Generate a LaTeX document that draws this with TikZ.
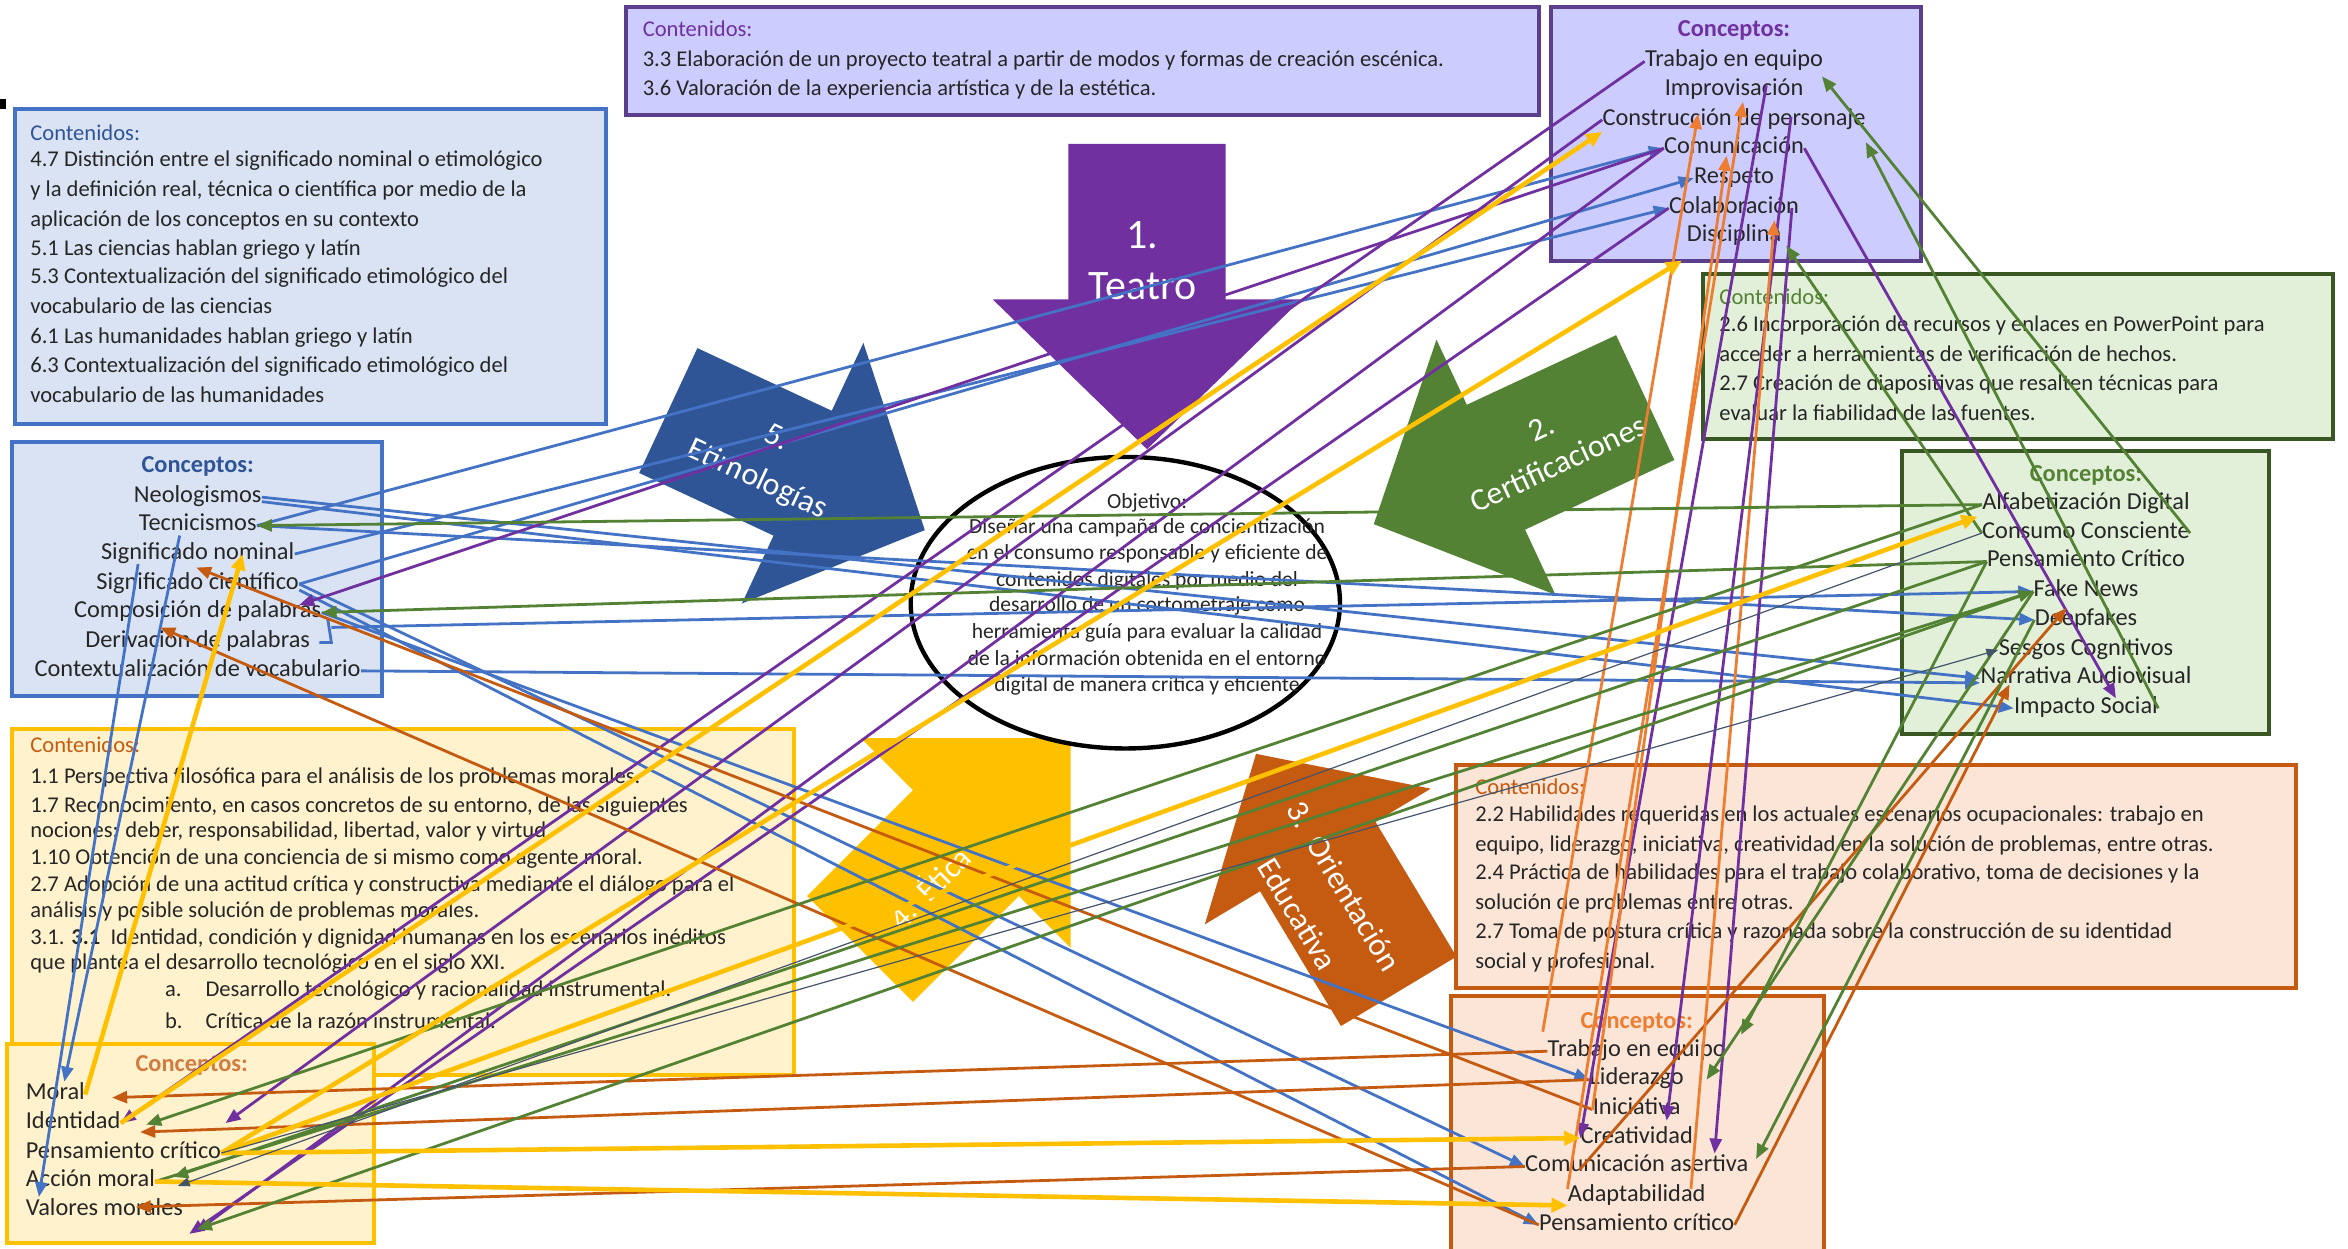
\documentclass[tikz,border=0pt]{standalone}
\usepackage{fontspec}
\setmainfont{Carlito}
\usetikzlibrary{arrows.meta,calc,shapes.geometric}
\definecolor{cpurple}{HTML}{7030A0}
\definecolor{cpurbox}{HTML}{5B3F8C}
\definecolor{cblue}{HTML}{4472C4}
\definecolor{cdblue}{HTML}{2F5597}
\definecolor{cgreen}{HTML}{548235}
\definecolor{cdgreen}{HTML}{385723}
\definecolor{corange}{HTML}{C55A11}
\definecolor{clorange}{HTML}{ED7D31}
\definecolor{cyellow}{HTML}{FFC000}
\definecolor{cgray}{HTML}{44546A}
\definecolor{fpurple}{HTML}{CCCCFF}
\definecolor{fblue}{HTML}{DAE3F3}
\definecolor{fgreen}{HTML}{E2F0D9}
\definecolor{fyellow}{HTML}{FFF2CC}
\definecolor{forange}{HTML}{FBE5D6}
\definecolor{ctext}{HTML}{262626}
\begin{document}
\begin{tikzpicture}[x=0.75pt,y=-0.75pt,
  bx/.style={line width=2pt},
  tx/.style={anchor=west, inner sep=0pt, text height=1.55ex, text depth=.45ex, font=\fontsize{11.3}{13}\selectfont, text=ctext},
  cx/.style={inner sep=0pt, text height=1.55ex, text depth=.45ex, font=\fontsize{12.2}{14}\selectfont, text=ctext},
  ox/.style={inner sep=0pt, text height=1.55ex, text depth=.45ex, font=\fontsize{10.8}{13}\selectfont, text=ctext},
  hb/.style={font=\fontsize{12.2}{14}\selectfont\bfseries},
  bigt/.style={text=white, inner sep=0pt, align=center, font=\fontsize{21}{25.5}\selectfont},
  midt/.style={text=white, inner sep=0pt, align=center},
  lk/.style={line width=1.4pt, -{Triangle[length=7.5pt,width=6pt]}},
  lky/.style={line width=2.3pt, cyellow, -{Triangle[length=8pt,width=7pt]}},
  lkg/.style={line width=0.6pt, cgray, -{Triangle[length=6pt,width=4.5pt]}}
]
\useasboundingbox (0,0) rectangle (1568,834);
\fill[white] (0,0) rectangle (1568,834);
\fill[black] (0,66) rectangle (4,73);

% ---------- boxes
\draw[bx, draw=cpurbox, fill=fpurple] (418,5) rectangle (1028,77);
\draw[bx, draw=cpurbox, fill=fpurple] (1036,5) rectangle (1283,174);
\draw[bx, draw=cblue, fill=fblue] (10,73) rectangle (405,283);
\draw[bx, draw=cblue, fill=fblue] (8,295) rectangle (255,465);
\draw[bx, draw=cdgreen, fill=fgreen] (1137,183) rectangle (1558,293);
\draw[bx, draw=cdgreen, fill=fgreen] (1270,301) rectangle (1515,490);
\draw[bx, draw=cyellow, fill=fyellow] (8,487) rectangle (530,718);
\draw[bx, draw=cyellow, fill=fyellow] (5,697) rectangle (250,830);
\draw[bx, draw=corange, fill=forange] (972,511) rectangle (1533,660);
\draw[bx, draw=corange, fill=forange] (969,665) rectangle (1218,850);

% ---------- big arrows
\begin{scope}[shift={(766,200)}, rotate=-90]
  \fill[cpurple] (-104,-52.5) -- (0,-52.5) -- (0,-103) -- (100,0) -- (0,103) -- (0,52.5) -- (-104,52.5) -- cycle;
\end{scope}
\begin{scope}[shift={(536,316)}, rotate=-25]
  \fill[cdblue] (-99,-46) -- (0,-46) -- (0,-96) -- (90,0) -- (0,96) -- (0,46) -- (-99,46) -- cycle;
\end{scope}
\begin{scope}[shift={(999,312)}, rotate=205]
  \fill[cgreen] (-110,-46) -- (0,-46) -- (0,-94) -- (90,0) -- (0,94) -- (0,46) -- (-110,46) -- cycle;
\end{scope}
\begin{scope}[shift={(645,563)}, rotate=45]
  \fill[cyellow] (-100,-50) -- (0,-50) -- (0,-99) -- (99,0) -- (0,99) -- (0,50) -- (-100,50) -- cycle;
\end{scope}
\begin{scope}[shift={(880,572)}, rotate=121]
  \fill[corange] (-105,-45) -- (0,-45) -- (0,-88) -- (80,0) -- (0,88) -- (0,45) -- (-105,45) -- cycle;
\end{scope}
\node[bigt] (t1) at (763,174) {1.\\Teatro};
\node[midt, rotate=-25, font=\fontsize{16}{23}\selectfont] (t5) at (512,307) {5.\\Etimologías};
\node[midt, rotate=25, font=\fontsize{16}{20}\selectfont] (t2) at (1035,298) {2.\\Certificaciones};
\node[midt, rotate=45, font=\fontsize{16}{20}\selectfont] (t4) at (620,592) {4.\ \ Ética};
\node[midt, rotate=-59, font=\fontsize{16}{27}\selectfont] (t3) at (882,601) {3.\ \ Orientación\\Educativa};

% ---------- objective ellipse
\node[ellipse, draw=black, line width=2.2pt, fill=white, minimum width=215pt, minimum height=146pt, inner sep=0pt] (obj) at (751.5,402.5) {};
\node[ox] (ob0) at (766,336) {Objetivo:};
\node[ox] (ob1) at (766,353) {Diseñar una campaña de concientización};
\node[ox] (ob2) at (766,370) {en el consumo responsable y eficiente de};
\node[ox] (ob3) at (766,388) {contenidos digitales por medio del};
\node[ox] (ob4) at (766,405) {desarrollo de un cortometraje como};
\node[ox] (ob5) at (766,423) {herramienta guía para evaluar la calidad};
\node[ox] (ob6) at (766,441) {de la información obtenida en el entorno};
\node[ox] (ob7) at (766,458) {digital de manera crítica y eficiente};

% ---------- purple texts
\node[tx, text=cpurple] (ph) at (429,21) {Contenidos:};
\node[tx] (pl1) at (429,41) {3.3 Elaboración de un proyecto teatral a partir de modos y formas de creación escénica.};
\node[tx] (pl2) at (429,60) {3.6 Valoración de la experiencia artística y de la estética.};
\node[cx, hb, text=cpurple] (pc) at (1158,21) {Conceptos:};
\node[cx] (pt1) at (1158,41) {Trabajo en equipo};
\node[cx] (pt2) at (1158,60) {Improvisación};
\node[cx] (pt3) at (1158,80) {Construcción de personaje};
\node[cx] (pt4) at (1158,99) {Comunicación};
\node[cx] (pt5) at (1158,119) {Respeto};
\node[cx] (pt6) at (1158,139) {Colaboración};
\node[cx] (pt7) at (1158,158) {Disciplina};

% ---------- blue texts
\node[tx, text=cdblue] (bh) at (20,90) {Contenidos:};
\node[tx] (bl1) at (20,108) {4.7 Distinción entre el significado nominal o etimológico};
\node[tx] (bl2) at (20,128) {y la definición real, técnica o científica por medio de la};
\node[tx] (bl3) at (20,148) {aplicación de los conceptos en su contexto};
\node[tx] (bl4) at (20,167) {5.1 Las ciencias hablan griego y latín};
\node[tx] (bl5) at (20,186) {5.3 Contextualización del significado etimológico del};
\node[tx] (bl6) at (20,206) {vocabulario de las ciencias};
\node[tx] (bl7) at (20,226) {6.1 Las humanidades hablan griego y latín};
\node[tx] (bl8) at (20,245) {6.3 Contextualización del significado etimológico del};
\node[tx] (bl9) at (20,265) {vocabulario de las humanidades};
\node[cx, hb, text=cdblue] (bc) at (132,312) {Conceptos:};
\node[cx] (b1) at (132,332) {Neologismos};
\node[cx] (b2) at (132,351) {Tecnicismos};
\node[cx] (b3) at (132,370) {Significado nominal};
\node[cx] (b4) at (132,390) {Significado científico};
\node[cx] (b5) at (132,409) {Composición de palabras};
\node[cx] (b6) at (132,429) {Derivación de palabras};
\node[cx] (b7) at (132,448) {Contextualización de vocabulario};

% ---------- green texts
\node[tx, text=cgreen] (gh) at (1148,200) {Contenidos:};
\node[tx] (gl1) at (1148,218) {2.6 Incorporación de recursos y enlaces en PowerPoint para};
\node[tx] (gl2) at (1148,238) {acceder a herramientas de verificación de hechos.};
\node[tx] (gl3) at (1148,257) {2.7 Creación de diapositivas que resalten técnicas para};
\node[tx] (gl4) at (1148,277) {evaluar la fiabilidad de las fuentes.};
\node[cx, hb, text=cgreen] (gc) at (1393,318) {Conceptos:};
\node[cx] (g1) at (1393,337) {Alfabetización Digital};
\node[cx] (g2) at (1393,356) {Consumo Consciente};
\node[cx] (g3) at (1393,375) {Pensamiento Crítico};
\node[cx] (g4) at (1393,395) {Fake News};
\node[cx] (g5) at (1393,414) {Deepfakes};
\node[cx] (g6) at (1393,434) {Sesgos Cognitivos};
\node[cx] (g7) at (1393,453) {Narrativa Audiovisual};
\node[cx] (g8) at (1393,473) {Impacto Social};

% ---------- yellow texts
\node[tx, text=corange] (yh) at (20,499) {Contenidos:};
\node[tx] (yl1) at (20,520) {1.1 Perspectiva filosófica para el análisis de los problemas morales.};
\node[tx] (yl2) at (20,539) {1.7 Reconocimiento, en casos concretos de su entorno, de las siguientes};
\node[tx] (yl3) at (20,556) {nociones: deber, responsabilidad, libertad, valor y virtud.};
\node[tx] (yl4) at (20,574) {1.10 Obtención de una conciencia de si mismo como agente moral.};
\node[tx] (yl5) at (20,592) {2.7 Adopción de una actitud crítica y constructiva mediante el diálogo para el};
\node[tx] (yl6) at (20,609) {análisis y posible solución de problemas morales.};
\node[tx] (yl7) at (20,627) {3.1. \textbf{3.1}\ \ Identidad, condición y dignidad humanas en los escenarios inéditos};
\node[tx] (yl8) at (20,644) {que plantea el desarrollo tecnológico en el siglo XXI.};
\node[tx] (yl9a) at (110,662) {a.};
\node[tx] (yl9) at (137,662) {Desarrollo tecnológico y racionalidad instrumental.};
\node[tx] (yl10a) at (110,683) {b.};
\node[tx] (yl10) at (137,683) {Crítica de la razón instrumental.};
\node[cx, hb, text=corange!80] (yc) at (128,712) {Conceptos:};
\node[cx, anchor=west] (y1) at (17,731) {Moral};
\node[cx, anchor=west] (y2) at (17,750) {Identidad};
\node[cx, anchor=west] (y3) at (17,770) {Pensamiento crítico};
\node[cx, anchor=west] (y4) at (17,789) {Acción moral};
\node[cx, anchor=west] (y5) at (17,808) {Valores morales};

% ---------- orange texts
\node[tx, text=corange] (oh) at (985,527) {Contenidos:};
\node[tx] (ol1) at (985,545) {2.2 Habilidades requeridas en los actuales escenarios ocupacionales: trabajo en};
\node[tx] (ol2) at (985,565) {equipo, liderazgo, iniciativa, creatividad en la solución de problemas, entre otras.};
\node[tx] (ol3) at (985,584) {2.4 Práctica de habilidades para el trabajo colaborativo, toma de decisiones y la};
\node[tx] (ol4) at (985,604) {solución de problemas entre otras.};
\node[tx] (ol5) at (985,623) {2.7 Toma de postura crítica y razonada sobre la construcción de su identidad};
\node[tx] (ol6) at (985,643) {social y profesional.};
\node[cx, hb, text=clorange] (oc) at (1093,683) {Conceptos:};
\node[cx] (o1) at (1093,702) {Trabajo en equipo};
\node[cx] (o2) at (1093,721) {Liderazgo};
\node[cx] (o3) at (1093,741) {Iniciativa};
\node[cx] (o4) at (1093,760) {Creatividad};
\node[cx] (o5) at (1093,779) {Comunicación asertiva};
\node[cx] (o6) at (1093,799) {Adaptabilidad};
\node[cx] (o7) at (1093,818) {Pensamiento crítico};

% ---------- connectors
% bracket
\coordinate (brk) at ($(b6.east)+(14,-10)$);
\draw[cblue, line width=1.4pt] ($(b6.east)+(6,0)$) -- ($(b6.east)+(14,0)$) -- ($(b5.east)+(4,4)$);

% blue
\draw[lk,cblue] (b1.east) -- (g7.west);
\draw[lk,cblue] ($(b1.east)+(0,3)$) -- (g8.west);
\draw[lk,cblue] (b2.east) -- (g5.west);
\draw[lk,cblue] (brk) -- (g4.west);
\draw[lk,cblue] (b7.east) -- ($(g7.west)+(0,3)$);
\draw[lk,cblue] (b3.east) -- (pt6.west);
\draw[lk,cblue] (b4.east) -- (pt5.west);
\draw[lk,cblue] (b2.east) -- (pt4.west);
\draw[lk,cblue] (b4.east) -- (o5.west);
\draw[lk,cblue] ($(b4.east)+(0,4)$) -- (o7.west);
\draw[lk,cblue] (b5.east) -- (o2.west);
\draw[lk,cblue] ($(b2.south)+(-12,0)$) -- ($(y1.north)+(6,-2)$);
\draw[lk,cblue] ($(b3.south west)+(25,0)$) -- ($(y5.north west)+(9,-2)$);

% purple
\draw[lk,cpurple] (pt1.west) -- (y2.east);
\draw[lk,cpurple] (pt3.west) -- ($(y2.east)+(70,0)$);
\draw[lk,cpurple] (pt4.west) -- ($(y5.east)+(8,15)$);
\draw[lk,cpurple] (pt6.west) -- ($(y5.east)+(4,16)$);
\draw[lk,cpurple] (pt4.west) -- ($(b5.east)+(-15,-5)$);
\draw[lk,cpurple] ($(pt2.east)+(-25,-3)$) -- (o4.west);
\draw[lk,cpurple] ($(pt3.east)+(-50,-2)$) -- ($(o4.north)+(20,-5)$);
\draw[lk,cpurple] (pt4.east) -- ($(g8.north)+(20,0)$);
\draw[lk,cpurple] ($(pt6.east)+(-5,0)$) -- ($(o5.north)+(52,-2)$);

% dark orange
\draw[lk,corange] (o1.west) -- ($(y1.east)+(18,2)$);
\draw[lk,corange] (o2.west) -- ($(y2.east)+(13,6)$);
\draw[lk,corange] (o5.west) -- ($(y5.center)+(21,-2)$);
\draw[lk,corange] (o3.west) -- ($(b3.center)+(-1,9)$);
\draw[lk,corange] (o7.west) -- ($(b6.center)+(-25,-10)$);
\draw[lk,corange] (o7.east) -- ($(g7.center)+(-51,4)$);
\draw[lk,corange] ($(o5.center)+(-38,2)$) -- ($(g5.center)+(-13,-8)$);

% light orange
\draw[lk,clorange] ($(oc.west)+(-25,6)$) -- ($(pt3.center)+(-24,-4)$);
\draw[lk,clorange] (o3.west) -- ($(pt4.center)+(-5,5)$);
\draw[lk,clorange] ($(o6.west)+(0,-5)$) -- ($(pt2.center)+(6,8)$);
\draw[lk,clorange] ($(o6.east)+(-10,-5)$) -- ($(pt6.center)+(27,8)$);

% green
\draw[lk,cgreen] (g1.west) -- (b2.east);
\draw[lk,cgreen] (g3.west) -- (b5.east);
\draw[lk,cgreen] (g2.west) -- ($(pt7.east)+(3,6)$);
\draw[lk,cgreen] (g8.east) -- ($(pt3.east)+(0,15)$);
\draw[lk,cgreen] (g2.east) -- ($(pt1.east)+(-1,10)$);
\draw[lk,cgreen] (g1.west) -- ($(y2.east)+(17,1)$);
\draw[lk,cgreen] (g3.west) -- ($(y4.east)+(12,-3)$);
\draw[lk,cgreen] (g4.west) -- ($(y5.east)+(9,13)$);
\draw[lk,cgreen] (g3.west) -- ($(o1.east)+(10,-11)$);
\draw[lk,cgreen] (g4.west) -- ($(o2.east)+(15,0)$);
\draw[lk,cgreen] (g5.west) -- ($(o5.east)+(5,-5)$);
\draw[lk,cgreen] (y4.east) -- (g4.west);

% yellow
\draw[lky] (y1.east) -- ($(b3.center)+(30,0)$);
\draw[lky] (y2.east) -- ($(pt3.west)+(0,8)$);
\draw[lky] (y3.east) -- ($(pt7.west)+(-3,16)$);
\draw[lky] (y3.east) -- ($(g1.west)+(-3,8)$);
\draw[lky] (y3.east) -- (o4.west);
\draw[lky] (y4.east) -- ($(o6.west)+(0,6)$);

% gray
\draw[lkg] (y3.east) -- (g6.west);
\draw[lkg] (g2.west) -- ($(y4.east)+(15,3)$);
\end{tikzpicture}
\end{document}
